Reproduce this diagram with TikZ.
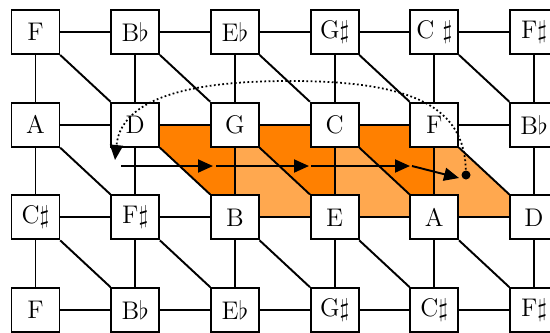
\documentclass[tikz,border=0pt]{standalone}
\usetikzlibrary{arrows.meta,backgrounds}
\definecolor{deep}{HTML}{FF8000}
\definecolor{pale}{HTML}{FFA84F}

\begin{document}
\begin{tikzpicture}[x=.02cm,y=-.02cm,>={Triangle[length=.3cm,width=.26cm]},line width=1.1pt,
  key/.style={draw,fill=white,minimum width=.96cm,minimum height=.88cm,inner sep=0pt,font=\fontsize{14.5}{16}\selectfont},
  dot/.style={circle,fill,inner sep=0pt,minimum size=.18cm}]
\clip (0,0) rectangle (550,332);
% the four rows of the lattice
\foreach \c/\t in {0/F,1/B$\flat$,2/E$\flat$,3/G$\sharp$,4/C $\sharp$,5/F$\sharp$}
  \node[key] (n0-\c) at (35.5+99.7*\c,32) {\t};
\foreach \c/\t in {0/A,1/D,2/G,3/C,4/F,5/B$\flat$}
  \node[key] (n1-\c) at (35.5+99.7*\c,124.7) {\t};
\foreach \c/\t in {0/C$\sharp$,1/F$\sharp$,2/B,3/E,4/A,5/D}
  \node[key] (n2-\c) at (35.5+99.7*\c,217.4) {\t};
\foreach \c/\t in {0/F,1/B$\flat$,2/E$\flat$,3/G$\sharp$,4/C$\sharp$,5/F$\sharp$}
  \node[key] (n3-\c) at (35.5+99.7*\c,310.1) {\t};
% links
\foreach \r in {0,...,3}
  \foreach \c [count=\d] in {0,...,4}
    \draw (n\r-\c) -- (n\r-\d);
\foreach \r [count=\s] in {0,1,2}{
  \foreach \c in {0,...,5}
    \draw (n\r-\c) -- (n\s-\c);
  \foreach \c [count=\d] in {0,...,4}
    \draw (n\r-\c) -- (n\s-\d);
}
% shaded band
\begin{scope}[on background layer]
\fill[pale] (n1-1.center) -- (n1-4.center) -- (n2-5.center) -- (n2-2.center) -- cycle;
\fill[deep] (n1-1.center) -- (n1-2.center) -- (n2-2.center) -- cycle;
\fill[deep] (n1-2.center) -- (n1-3.center) -- (n2-3.center) -- cycle;
\fill[deep] (n1-3.center) -- (n1-4.center) -- (n2-4.center) -- cycle;
\end{scope}
% path of the progression
\coordinate (h0) at (121,166);
\coordinate (h1) at (213,166);
\coordinate (h2) at (216,166);
\coordinate (h3) at (309,166);
\coordinate (h4) at (311,166);
\coordinate (h5) at (410,166);
\coordinate (h6) at (412,166);
\coordinate (h7) at (459,178);
\node[dot] (stop) at (466,175) {};
\draw[->] (h0) -- (h1);
\draw[->] (h2) -- (h3);
\draw[->] (h4) -- (h5);
\draw[->] (h6) -- (h7);
\coordinate (apex) at (290,81);
\coordinate (land) at (115,160);
\draw[->,line width=1pt,dash pattern=on 1pt off 1.4pt] (stop) .. controls (464,108) and (415,81) .. (apex)
  .. controls (215,81) and (122,90) .. (land);
\end{tikzpicture}
\end{document}
